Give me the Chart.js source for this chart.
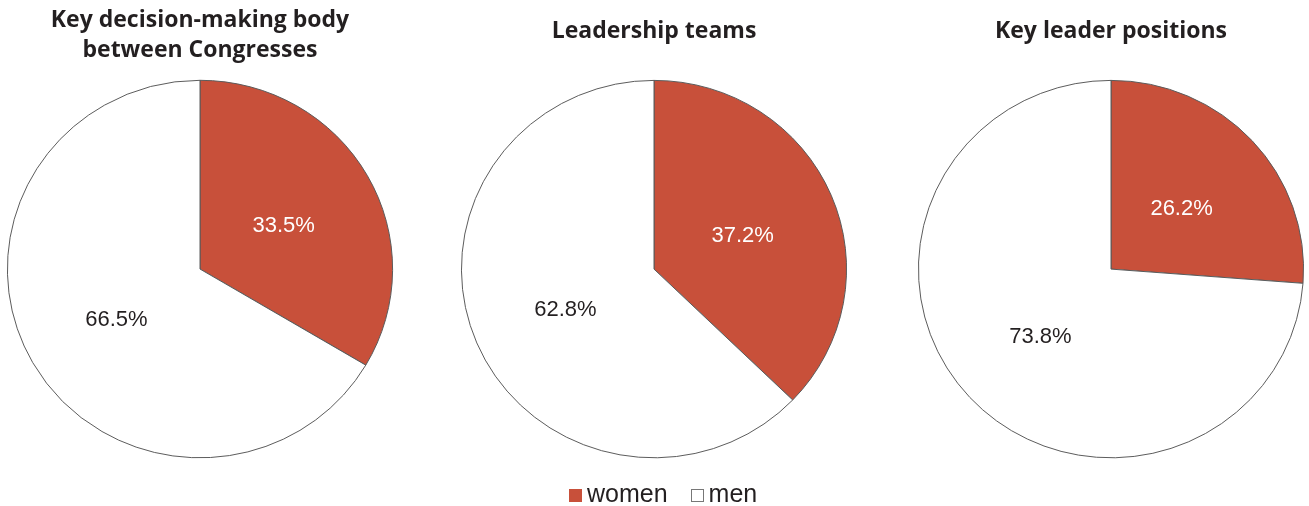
<!DOCTYPE html>
<html>
<head>
<meta charset="utf-8">
<script src="https://cdn.jsdelivr.net/npm/chart.js@4/dist/chart.umd.min.js"></script>
<style>
  html, body { margin: 0; padding: 0; background: #fff; }
  #wrap { position: relative; width: 1309px; height: 506px; overflow: hidden; }
  .pie { position: absolute; top: 0; height: 506px; }
  #legend { position: absolute; left: 569px; top: 479px; display: flex;
            font-family: "Liberation Sans", Arial, sans-serif; font-size: 25px; color: #231F20; }
  #legend .item { display: flex; align-items: center; margin-right: 23px; }
  #legend .sw { width: 13px; height: 13px; margin-right: 5px; box-sizing: border-box; margin-top: 3px; }
</style>
</head>
<body>
<div id="wrap">
  <div class="pie" style="left:0;width:400px"><canvas id="c1"></canvas></div>
  <div class="pie" style="left:454px;width:400px"><canvas id="c2"></canvas></div>
  <div class="pie" style="left:913px;width:396px"><canvas id="c3"></canvas></div>
  <div id="legend"></div>
</div>
<script>
// Share of women and men in each group (percent)
const categories = ["women", "men"];
const titles = [
  ["Key decision-making body", "between Congresses"],
  ["Leadership teams"],
  ["Key leader positions"]
];
const decisionBody = [33.5, 66.5];
const leadershipTeams = [37.2, 62.8];
const leaderPositions = [26.2, 73.8];

const sliceColors = ["#C8503A", "#FFFFFF"];
const labelColors = ["#FFFFFF", "#231F20"];
const edgeColor = "#5A5A5A";
const squash = 0.98; // pies are drawn very slightly flattened vertically
const labelSize = 22;

// Flattens the pie a little, anchored at its top edge
const flatten = {
  id: "flatten",
  beforeDatasetsDraw(chart) {
    const arc = chart.getDatasetMeta(0).data[0];
    const top = arc.y - arc.outerRadius;
    chart.ctx.save();
    chart.ctx.translate(0, top);
    chart.ctx.scale(1, squash);
    chart.ctx.translate(0, -top);
  },
  afterDatasetsDraw(chart) {
    chart.ctx.restore();
  }
};

// Draws each slice's percentage at the middle of its radius,
// with the digits vertically centred on that point
const sliceLabels = {
  id: "sliceLabels",
  afterDatasetsDraw(chart) {
    const ctx = chart.ctx;
    const meta = chart.getDatasetMeta(0);
    const values = chart.data.datasets[0].data;
    ctx.save();
    ctx.font = labelSize + 'px "Liberation Sans", Arial, sans-serif';
    ctx.textAlign = "center";
    ctx.textBaseline = "alphabetic";
    meta.data.forEach((arc, i) => {
      const p = arc.tooltipPosition();
      const top = arc.y - arc.outerRadius;
      const y = top + (p.y - top) * squash;
      ctx.fillStyle = labelColors[i];
      ctx.fillText(values[i].toFixed(1) + "%", p.x, y + labelSize * 0.36 + 2);
    });
    ctx.restore();
  }
};

function makePie(id, values, title) {
  const twoLines = title.length > 1;
  new Chart(document.getElementById(id), {
    type: "pie",
    data: {
      labels: categories,
      datasets: [{
        data: values,
        backgroundColor: sliceColors,
        borderColor: edgeColor,
        borderWidth: 1
      }]
    },
    options: {
      responsive: true,
      maintainAspectRatio: false,
      animation: false,
      layout: { padding: { bottom: 40 } },
      plugins: {
        legend: { display: false },
        tooltip: { enabled: false },
        title: {
          display: true,
          text: title,
          color: "#231F20",
          font: { family: '"Open Sans", sans-serif', size: 23, weight: "bold", lineHeight: 1.3 },
          padding: twoLines ? { top: 6, bottom: 14 } : { top: 17, bottom: 33 }
        }
      }
    },
    plugins: [flatten, sliceLabels]
  });
}

makePie("c1", decisionBody, titles[0]);
makePie("c2", leadershipTeams, titles[1]);
makePie("c3", leaderPositions, titles[2]);

// Legend shared by all three pies
const legend = document.getElementById("legend");
categories.forEach((name, i) => {
  const item = document.createElement("div");
  item.className = "item";
  const sw = document.createElement("span");
  sw.className = "sw";
  sw.style.background = sliceColors[i];
  sw.style.border = i === 0 ? "none" : "1px solid #777";
  const txt = document.createElement("span");
  txt.textContent = name;
  item.appendChild(sw);
  item.appendChild(txt);
  legend.appendChild(item);
});
</script>
</body>
</html>
